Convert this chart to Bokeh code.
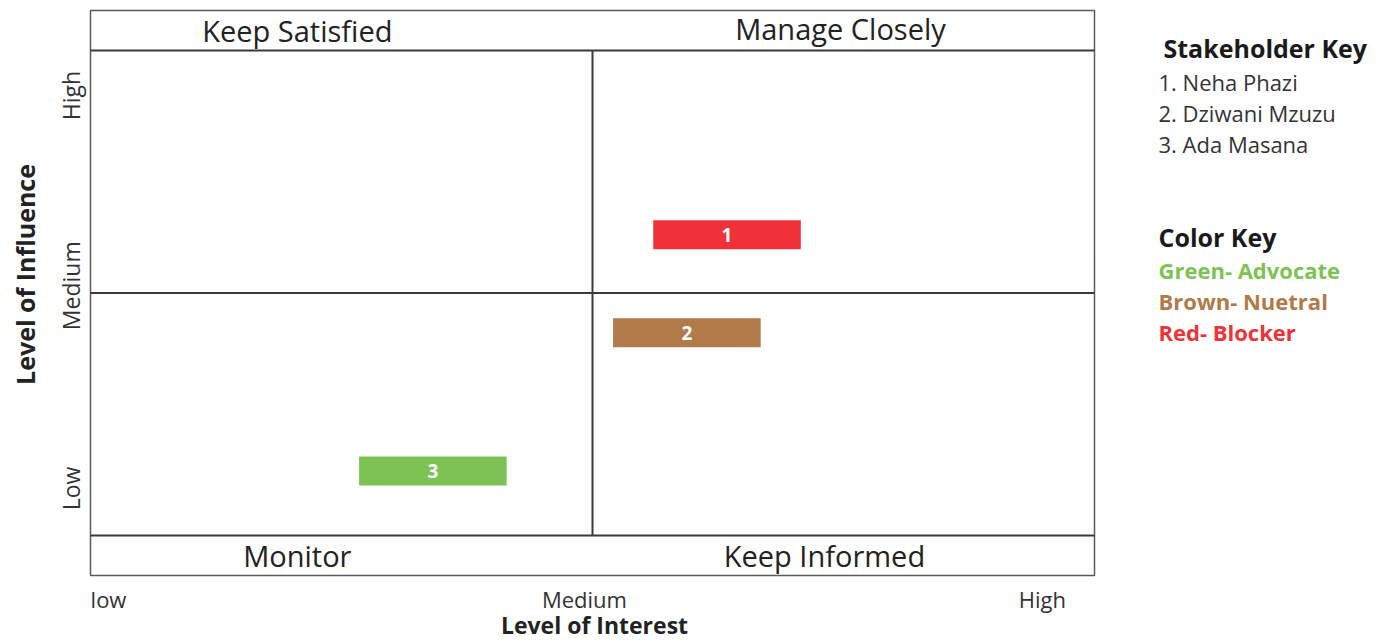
import math
from bokeh.plotting import figure
from bokeh.models import Range1d
from bokeh.core.properties import value
from bokeh.embed import file_html
from bokeh.resources import INLINE

# ---------------- data ----------------
stakeholder_ids = ["1", "2", "3"]
stakeholders = ["Neha Phazi", "Dziwani Mzuzu", "Ada Masana"]
interest = [6.34, 5.94, 3.41]     # level of interest (0 = low, 10 = high)
influence = [6.2, 4.18, 1.33]     # level of influence (0 = low, 10 = high)
stance = ["Blocker", "Neutral", "Advocate"]
stance_colors = {"Advocate": "#7dc353", "Neutral": "#b07b48", "Blocker": "#ee3237"}
quadrant_top = ["Keep Satisfied", "Manage Closely"]
quadrant_bottom = ["Monitor", "Keep Informed"]
interest_ticks = ["low", "Medium", "High"]
influence_ticks = ["Low", "Medium", "High"]
color_key = ["Green- Advocate", "Brown- Nuetral", "Red- Blocker"]
color_key_stance = ["Advocate", "Neutral", "Blocker"]

# ---------------- layout ----------------
W, H = 1381, 641
FL, FR, FT, FB = 90, 1094, 50, 535          # quadrant area in pixels
sx = (FR - FL) / 10.0
sy = (FB - FT) / 10.0
band = 40 / sy                               # header/footer band height in data units

def dx(px):
    return (px - FL) / sx

def dy(py):
    return (FB - py) / sy

p = figure(width=W, height=H, output_backend="svg", toolbar_location=None,
           x_range=Range1d(dx(0), dx(W)), y_range=Range1d(dy(H), dy(0)),
           x_axis_type=None, y_axis_type=None, min_border=0)
p.outline_line_color = None
p.background_fill_color = "white"
p.border_fill_color = "white"
p.xgrid.visible = False
p.ygrid.visible = False

FONT = value("Open Sans")

# outer box
p.quad(left=[0], right=[10], bottom=[-band], top=[10 + band],
       fill_color=None, line_color="#5a5a5a", line_width=1.5)
# band separators and quadrant dividers
p.segment(x0=[0, 0, 0], x1=[10, 10, 10], y0=[10, 0, 5], y1=[10, 0, 5],
          line_color="#3a3a3a", line_width=2)
p.segment(x0=[5], x1=[5], y0=[0], y1=[10], line_color="#3a3a3a", line_width=2)

# band titles
p.text(x=[2.06, 7.47], y=[10 + band / 2, 10 + band / 2 + 0.04], text=quadrant_top,
       text_font=FONT, text_font_size="29px", text_color="#222222",
       text_align="center", text_baseline="middle")
p.text(x=[2.06, 7.31], y=[-band / 2, -band / 2], text=quadrant_bottom,
       text_font=FONT, text_font_size="29px", text_color="#222222",
       text_align="center", text_baseline="middle")

# stakeholder bars
bar_colors = [stance_colors[s] for s in stance]
p.rect(x=interest, y=influence, width=1.47, height=0.6,
       fill_color=bar_colors, line_color=None)
p.text(x=interest, y=influence, text=stakeholder_ids, text_font=FONT,
       text_font_size="19px", text_font_style="bold", text_color="white",
       text_align="center", text_baseline="middle")

# interest tick labels
p.text(x=[0, 4.92, 9.48], y=[dy(598)] * 3, text=interest_ticks, text_font=FONT,
       text_font_size="22px", text_color="#333333", text_align="center",
       text_baseline="middle", x_offset=[18, 0, 0])
p.text(x=[dx(594)], y=[dy(624)], text=["Level of Interest"], text_font=FONT,
       text_font_size="23px", text_font_style="bold", text_color="#222222",
       text_align="center", text_baseline="middle")

# influence tick labels
p.text(x=[dx(70)] * 3, y=[0.97, 5.15, 9.07], text=influence_ticks, text_font=FONT,
       text_font_size="23px", text_color="#333333", angle=math.pi / 2,
       text_align="center", text_baseline="middle")
p.text(x=[dx(24)], y=[dy(274)], text=["Level of Influence"], text_font=FONT,
       text_font_size="25px", text_font_style="bold", text_color="#222222",
       angle=math.pi / 2, text_align="center", text_baseline="middle")

# stakeholder key
p.text(x=[dx(1163)], y=[dy(47)], text=["Stakeholder Key"], text_font=FONT,
       text_font_size="25px", text_font_style="bold", text_color="#1a1a1a",
       text_align="left", text_baseline="middle")
p.text(x=[dx(1158)] * 3, y=[dy(81), dy(112), dy(143)],
       text=[f"{i}. {n}" for i, n in zip(stakeholder_ids, stakeholders)],
       text_font=FONT, text_font_size="22px", text_color="#333333",
       text_align="left", text_baseline="middle")

# color key
p.text(x=[dx(1158)], y=[dy(236)], text=["Color Key"], text_font=FONT,
       text_font_size="25px", text_font_style="bold", text_color="#1a1a1a",
       text_align="left", text_baseline="middle")
p.text(x=[dx(1158)] * 3, y=[dy(269), dy(300), dy(331)], text=color_key,
       text_font=FONT, text_font_size="22px", text_font_style="bold",
       text_color=[stance_colors[s] for s in color_key_stance],
       text_align="left", text_baseline="middle")

open("out.html", "w").write(file_html(p, INLINE))
